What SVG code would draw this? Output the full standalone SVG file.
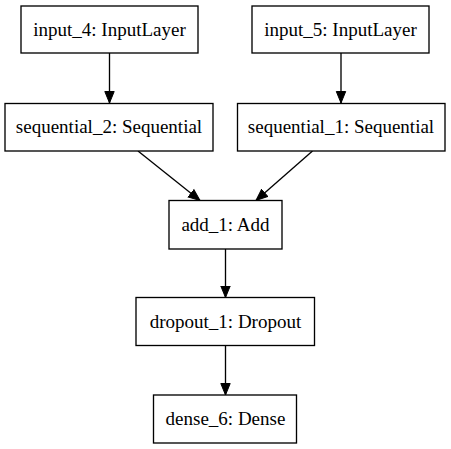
<svg xmlns="http://www.w3.org/2000/svg" width="451" height="449" viewBox="0 0 451 449">
<style>
.n rect{fill:#fff;stroke:#000;stroke-width:1.33}
.n text{font-family:"Liberation Serif","Times New Roman",serif;font-size:19px;text-anchor:middle;fill:#000}
.e line{stroke:#000;stroke-width:1.33}
</style>
<defs>
<marker id="ah" viewBox="0 0 12 12" refX="12" refY="6" markerWidth="12" markerHeight="12" markerUnits="userSpaceOnUse" orient="auto">
<path d="M0.5,1.3 L12,6 L0.5,10.7 Z" fill="#000" stroke="#000" stroke-width="1"/>
</marker>
</defs>
<rect width="451" height="449" fill="#fff"/>
<g id="edges" class="e">
<line x1="109.5" y1="53" x2="109.5" y2="103" marker-end="url(#ah)"/>
<line x1="341" y1="53" x2="341" y2="103" marker-end="url(#ah)"/>
<line x1="138" y1="151" x2="200" y2="200.5" marker-end="url(#ah)"/>
<line x1="312.5" y1="151" x2="256" y2="200.5" marker-end="url(#ah)"/>
<line x1="225.5" y1="249" x2="225.5" y2="297.5" marker-end="url(#ah)"/>
<line x1="225.5" y1="345.5" x2="225.5" y2="395" marker-end="url(#ah)"/>
</g>
<g id="input_4" class="n"><rect x="21" y="6" width="177" height="47"/><text x="109.5" y="36">input_4: InputLayer</text></g>
<g id="input_5" class="n"><rect x="252" y="6" width="177" height="47"/><text x="340.5" y="36">input_5: InputLayer</text></g>
<g id="sequential_2" class="n"><rect x="5" y="103.5" width="208" height="47.5"/><text x="109" y="133">sequential_2: Sequential</text></g>
<g id="sequential_1" class="n"><rect x="237.5" y="103.5" width="207.5" height="47.5"/><text x="341" y="133">sequential_1: Sequential</text></g>
<g id="add_1" class="n"><rect x="169" y="200.5" width="113" height="48.5"/><text x="225.5" y="230.5">add_1: Add</text></g>
<g id="dropout_1" class="n"><rect x="136" y="297.5" width="178.5" height="48"/><text x="225.5" y="327.5">dropout_1: Dropout</text></g>
<g id="dense_6" class="n"><rect x="153.5" y="395" width="143" height="48"/><text x="225.5" y="425">dense_6: Dense</text></g>
</svg>
